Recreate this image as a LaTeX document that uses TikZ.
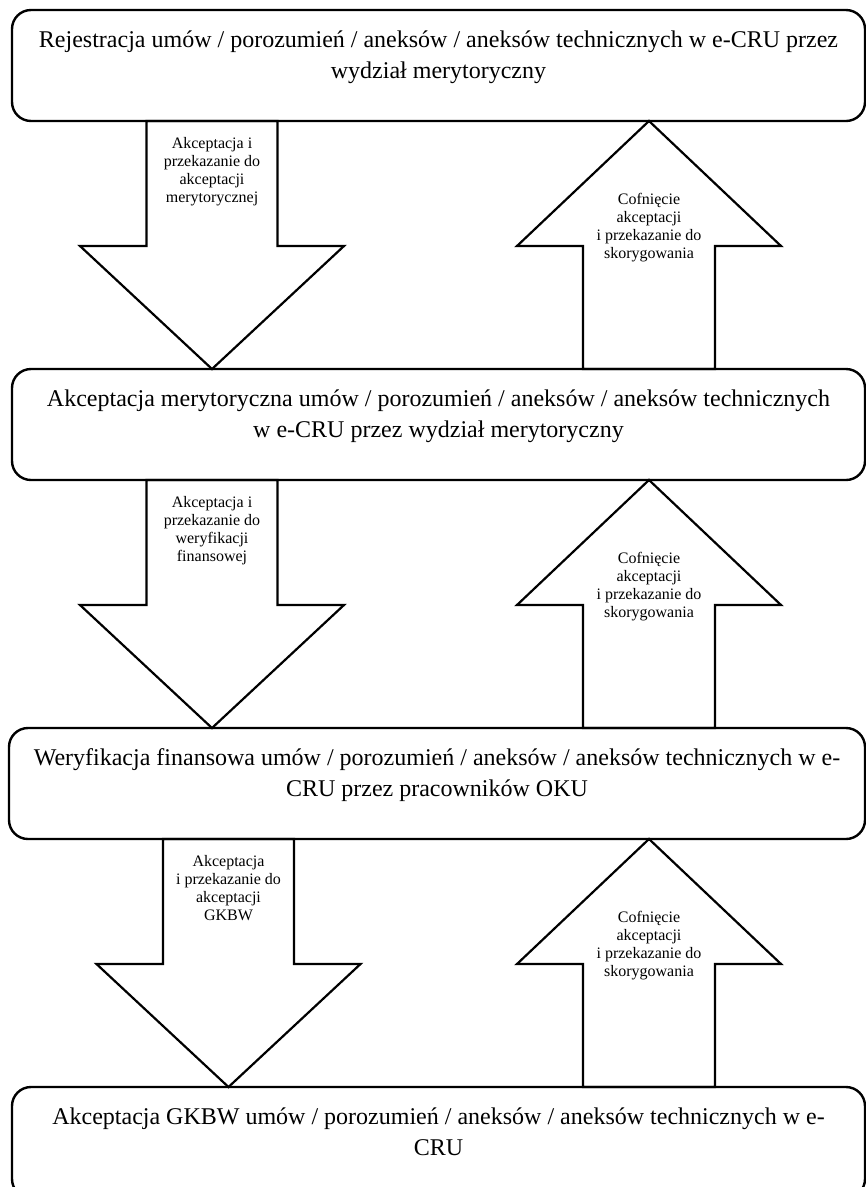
\documentclass[tikz,border=0pt]{standalone}
\usepackage{fontspec}
\setmainfont{Liberation Serif}
\usetikzlibrary{calc}

\tikzset{
  box/.style={draw, line width=2.4pt, rounded corners=19pt, minimum height=111pt,
    inner sep=0pt, outer sep=0pt},
  boxtext/.style={align=center, inner sep=0pt, outer sep=0pt, anchor=north,
    font=\fontsize{24}{31}\selectfont},
  arrowtext/.style={align=center, inner sep=0pt, outer sep=0pt, anchor=north,
    font=\fontsize{16}{18.2}\selectfont},
  blockarrow/.style={draw, line width=2.2pt, line join=miter},
}

% block arrow pointing down from box #1 to box #2, centred on coordinate #3
\newcommand{\flowdown}[3]{%
  \draw[blockarrow] ($(#1.south -| #3)+(-65.5,0)$) -- ($(#1.south -| #3)+(-65.5,125)$)
    -- ($(#1.south -| #3)+(-132,125)$) -- (#2.north -| #3)
    -- ($(#1.south -| #3)+(132,125)$) -- ($(#1.south -| #3)+(65.5,125)$)
    -- ($(#1.south -| #3)+(65.5,0)$) -- cycle;}
% block arrow pointing up from box #2 to box #1, centred on coordinate #3
\newcommand{\flowup}[3]{%
  \draw[blockarrow] (#1.south -| #3) -- ($(#1.south -| #3)+(132,125)$)
    -- ($(#1.south -| #3)+(66,125)$) -- ($(#2.north -| #3)+(66,0)$)
    -- ($(#2.north -| #3)+(-66,0)$) -- ($(#1.south -| #3)+(-66,125)$)
    -- ($(#1.south -| #3)+(-132,125)$) -- cycle;}

\begin{document}
\begin{tikzpicture}[x=1pt, y=-1pt]
\useasboundingbox (0,0) rectangle (866,1187);

% process steps
\node[box, minimum width=853pt] (b1) at (438.5,65.5) {};
\node[box, minimum width=853pt] (b2) at (438.5,424.5) {};
\node[box, minimum width=856pt] (b3) at (437,783.5) {};
\node[box, minimum width=853pt] (b4) at (438.5,1142.5) {};

\node[boxtext] (t1) at ($(b1.north)+(0,15.3)$)
  {\strut Rejestracja umów / porozumień / aneksów / aneksów technicznych w e-CRU przez\\wydział merytoryczny};
\node[boxtext] (t2) at ($(b2.north)+(0,15.3)$)
  {\strut Akceptacja merytoryczna umów / porozumień / aneksów / aneksów technicznych\\w e-CRU przez wydział merytoryczny};
\node[boxtext] (t3) at ($(b3.north)+(0,15.3)$)
  {\strut Weryfikacja finansowa umów / porozumień / aneksów / aneksów technicznych w e-\\CRU przez pracowników OKU};
\node[boxtext] (t4) at ($(b4.north)+(0,15.3)$)
  {\strut Akceptacja GKBW umów / porozumień / aneksów / aneksów technicznych w e-\\CRU};

% arrow axes
\coordinate (cl) at (212,0);
\coordinate (cl3) at (228.5,0);
\coordinate (cr) at (649,0);

% forward arrows
\flowdown{b1}{b2}{cl}
\flowdown{b2}{b3}{cl}
\flowdown{b3}{b4}{cl3}
% return arrows
\flowup{b1}{b2}{cr}
\flowup{b2}{b3}{cr}
\flowup{b3}{b4}{cr}

\node[arrowtext] (a1) at ($(b1.south -| cl)+(0,14.4)$)
  {\strut Akceptacja i\\przekazanie do\\akceptacji\\merytorycznej};
\node[arrowtext] (a2) at ($(b2.south -| cl)+(0,14.4)$)
  {\strut Akceptacja i\\przekazanie do\\weryfikacji\\finansowej};
\node[arrowtext] (a3) at ($(b3.south -| cl3)+(0,14.4)$)
  {\strut Akceptacja\\i przekazanie do\\akceptacji\\GKBW};

\node[arrowtext] (r1) at ($(b1.south -| cr)+(0,70.4)$)
  {\strut Cofnięcie\\akceptacji\\i przekazanie do\\skorygowania};
\node[arrowtext] (r2) at ($(b2.south -| cr)+(0,70.4)$)
  {\strut Cofnięcie\\akceptacji\\i przekazanie do\\skorygowania};
\node[arrowtext] (r3) at ($(b3.south -| cr)+(0,70.4)$)
  {\strut Cofnięcie\\akceptacji\\i przekazanie do\\skorygowania};
\end{tikzpicture}
\end{document}
